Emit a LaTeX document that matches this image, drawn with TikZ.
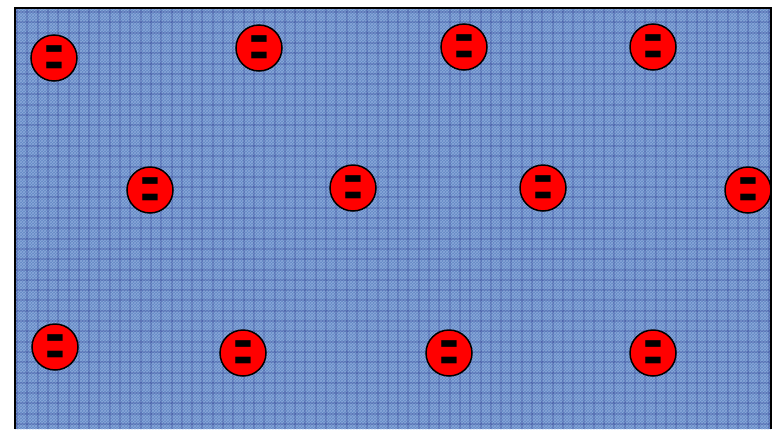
\documentclass[tikz,border=0pt]{standalone}
\usepackage{fontspec}
\setmainfont{Liberation Sans}
\usetikzlibrary{patterns}
\definecolor{denim}{RGB}{100,136,196}
\definecolor{denimlight}{RGB}{175,200,240}
\definecolor{charge}{RGB}{255,0,0}
\begin{document}
\begin{tikzpicture}[x=1pt,y=-1pt,
  ion/.style={circle,draw=black,line width=1.5pt,fill=charge,minimum size=46pt,inner sep=0pt},
  sign/.style={inner sep=0pt,font=\fontsize{36}{36}\selectfont\bfseries}]
\useasboundingbox (0,0) rectangle (780,429);
\fill[denim] (15,8) rectangle (771,429);
\begin{scope}
\clip (15,8) rectangle (771,429);
\fill[pattern=crosshatch,pattern color=denimlight,opacity=0.5] (15,8) rectangle (771,429);
\foreach \i in {0,...,75}{
  \draw[blue!40!black,opacity=0.15,line width=2pt] (17+\i*10.3,8) -- (17+\i*10.3,429);
}
\foreach \j in {0,...,41}{
  \draw[blue!40!black,opacity=0.15,line width=2pt] (15,12+\j*10.3) -- (771,12+\j*10.3);
}
\end{scope}
\draw[black,line width=1.5pt] (15,429) -- (15,8) -- (771,8) -- (771,429);
\foreach \n/\x/\y in {a/54/58, b/259/48, c/464/47, d/653/47,
                      e/150/190, f/353/188, g/543/188, h/748/190,
                      i/55/347, j/243/353, k/449/353, l/653/353}{
  \node[ion] (\n) at (\x,\y) {};
  \node[sign] (\n s) at ([yshift=-4pt]\n.center) {\scalebox{0.85}[1.7]{=}};
}
\end{tikzpicture}
\end{document}
